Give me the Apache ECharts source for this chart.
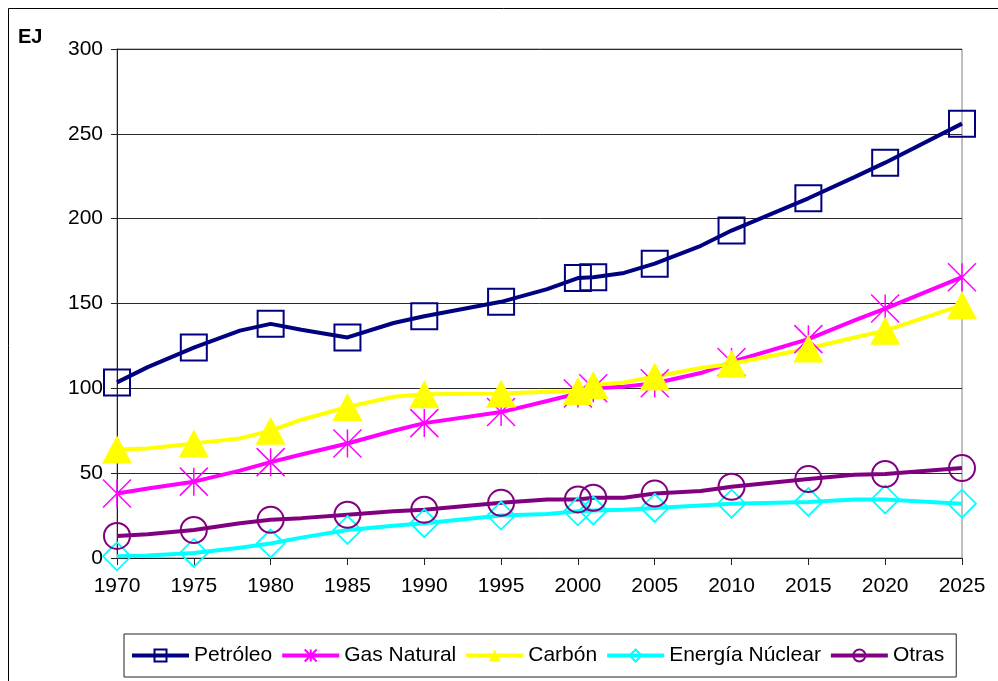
<!DOCTYPE html>
<html>
<head>
<meta charset="utf-8">
<script src="https://cdn.jsdelivr.net/npm/echarts@6/dist/echarts.min.js"></script>
<style>
html, body { margin: 0; padding: 0; background: #fff; }
#chart { width: 998px; height: 681px; }
</style>
</head>
<body>
<div id="chart"></div>
<script>
// Years at which each series is sampled; markers are drawn only on markerYears.
const years = [1970, 1972, 1975, 1978, 1980, 1982, 1985, 1988, 1990, 1995, 1998,
               2000, 2001, 2003, 2005, 2008, 2010, 2015, 2018, 2020, 2025];
const markerYears = [1970, 1975, 1980, 1985, 1990, 1995, 2000, 2001, 2005, 2010, 2015, 2020, 2025];

// Consumption in EJ
const petroleo = [103.5, 112.5, 124, 134, 138, 134.5, 130, 138.5, 142.5, 151, 158.5,
                  165, 165.5, 168, 173.5, 184, 193, 212, 224.5, 233, 256];
const gasNatural = [38, 41, 45, 51.5, 56.5, 61, 67.5, 75, 79.5, 86, 92.5,
                    97, 100, 101, 103, 109, 115.5, 129, 140, 147, 165.5];
const carbon = [64, 64.5, 67.5, 70.5, 75, 81.5, 89, 95, 96.5, 97, 98,
                98.5, 102, 103.5, 107, 112, 114.5, 123.5, 130, 134, 149];
const nuclear = [1, 1.5, 3, 6, 8.5, 12, 16.5, 19, 20.5, 25, 26,
                 27.5, 28, 28.5, 29.5, 31, 32, 33, 34.5, 34.5, 32];
const otras = [13, 14, 16.5, 20.5, 22.5, 23.5, 25.5, 27.5, 28.5, 32.5, 34.5,
               34.5, 35.5, 35.5, 38, 39.5, 42, 46.5, 49, 49.5, 53];

const seriesNames = ['Petróleo', 'Gas Natural', 'Carbón', 'Energía Núclear', 'Otras'];
const yTicks = { min: 0, max: 300, step: 50 };
const xTicks = { min: 1970, max: 2025, step: 5 };

const FONT = 'Liberation Sans, Arial, sans-serif';

function buildData(values) {
  return years.map((y, i) => markerYears.includes(y)
    ? [y, values[i]]
    : { value: [y, values[i]], symbol: 'none' });
}

const STAR = 'path://M10 0L10 20M0 0L20 20M0 20L20 0';

function lineSeries(name, values, color, symbol, size, filled, borderWidth) {
  return {
    name: name,
    type: 'line',
    data: buildData(values),
    symbol: symbol,
    symbolSize: size,
    showAllSymbol: true,
    lineStyle: { color: color, width: 4 },
    itemStyle: filled
      ? { color: color, borderWidth: 0 }
      : { color: 'transparent', borderColor: color, borderWidth: borderWidth },
    emphasis: { disabled: true }
  };
}

const chart = echarts.init(document.getElementById('chart'), null, { renderer: 'canvas' });

chart.setOption({
  animation: false,
  backgroundColor: '#fff',
  textStyle: { fontFamily: FONT },
  graphic: [
    {
      type: 'rect',
      shape: { x: 8.5, y: 8.5, width: 1000, height: 700 },
      style: { fill: 'none', stroke: '#000', lineWidth: 1 },
      silent: true
    },
    {
      type: 'text',
      left: 18,
      top: 27,
      style: { text: 'EJ', font: 'bold 20px ' + FONT, fill: '#000' }
    }
  ],
  grid: {
    left: 117, right: 36, top: 49, bottom: 123,
    show: true, borderColor: '#808080', borderWidth: 1, backgroundColor: 'transparent'
  },
  xAxis: {
    type: 'value',
    min: xTicks.min, max: xTicks.max, interval: xTicks.step,
    axisLine: { show: true, lineStyle: { color: '#222', width: 1 } },
    axisTick: { show: true, length: 7, lineStyle: { color: '#222' } },
    axisLabel: {
      color: '#000', fontSize: 21, fontFamily: FONT, margin: 18,
      formatter: v => String(v)
    },
    splitLine: { show: false }
  },
  yAxis: {
    type: 'value',
    min: yTicks.min, max: yTicks.max, interval: yTicks.step,
    axisLine: { show: true, lineStyle: { color: '#222', width: 1 } },
    axisTick: { show: true, length: 6, lineStyle: { color: '#222' } },
    axisLabel: { color: '#000', fontSize: 21, fontFamily: FONT, margin: 14 },
    splitLine: { show: true, lineStyle: { color: '#2a2a2a', width: 1 } }
  },
  legend: {
    data: seriesNames,
    left: 124, top: 634,
    orient: 'horizontal',
    padding: [11, 12, 11, 6],
    itemWidth: 57, itemHeight: 15, itemGap: 8,
    borderColor: '#222', borderWidth: 1,
    backgroundColor: '#fff',
    selectedMode: false,
    lineStyle: { width: 4 },
    textStyle: { fontFamily: FONT, fontSize: 21, color: '#000' }
  },
  series: [
    lineSeries(seriesNames[0], petroleo, '#000080', 'rect', 26, false, 2),
    lineSeries(seriesNames[1], gasNatural, '#FF00FF', STAR, 28, false, 1.5),
    lineSeries(seriesNames[2], carbon, '#FFFF00', 'triangle', [30, 28], true, 0),
    lineSeries(seriesNames[3], nuclear, '#00FFFF', 'diamond', 28, false, 1.8),
    lineSeries(seriesNames[4], otras, '#800080', 'circle', 26, false, 2)
  ]
});
</script>
</body>
</html>
